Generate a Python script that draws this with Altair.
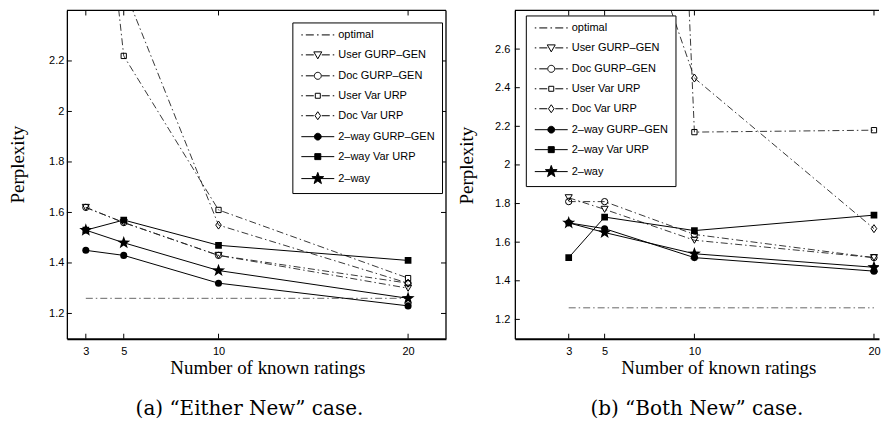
import math
import altair as alt
import pandas as pd

# ---------------- data ----------------
x_ratings = [3, 5, 10, 20]
series_names = ["optimal", "User GURP–GEN", "Doc GURP–GEN", "User Var URP",
                "Doc Var URP", "2–way GURP–GEN", "2–way Var URP", "2–way"]

# (a) "Either New" case
a_optimal = [1.26, 1.26, 1.26, 1.26]
a_user_gurp = [1.62, 1.56, 1.43, 1.30]
a_doc_gurp = [1.62, 1.56, 1.43, 1.32]
a_user_var = [3.60, 2.22, 1.61, 1.34]
a_doc_var = [3.20, 2.49, 1.55, 1.32]
a_2way_gurp = [1.45, 1.43, 1.32, 1.23]
a_2way_var = [1.53, 1.57, 1.47, 1.41]
a_2way = [1.53, 1.48, 1.37, 1.26]

# (b) "Both New" case
b_optimal = [1.26, 1.26, 1.26, 1.26]
b_user_gurp = [1.83, 1.77, 1.61, 1.52]
b_doc_gurp = [1.81, 1.81, 1.64, 1.52]
b_user_var = [18.0, 13.0, 2.17, 2.18]
b_doc_var = [4.60, 3.80, 2.45, 1.67]
b_2way_gurp = [1.70, 1.67, 1.52, 1.45]
b_2way_var = [1.52, 1.73, 1.66, 1.74]
b_2way = [1.70, 1.65, 1.54, 1.47]

a_y_ticks = [1.2, 1.4, 1.6, 1.8, 2.0, 2.2]
b_y_ticks = [1.2, 1.4, 1.6, 1.8, 2.0, 2.2, 2.4, 2.6]

a_series = [a_optimal, a_user_gurp, a_doc_gurp, a_user_var, a_doc_var, a_2way_gurp, a_2way_var, a_2way]
b_series = [b_optimal, b_user_gurp, b_doc_gurp, b_user_var, b_doc_var, b_2way_gurp, b_2way_var, b_2way]


def to_frame(series_list):
    rows = []
    for name, vals in zip(series_names, series_list):
        for xv, yv in zip(x_ratings, vals):
            rows.append({"series": name, "x": xv, "y": yv})
    return pd.DataFrame(rows)


# ---------------- styles ----------------
DASHDOT = [7, 3, 1.5, 3]
SANS = "Liberation Sans"
SERIF = "Liberation Serif"


def poly_path(pts, scale=1.0):
    return "M" + "L".join(f"{x / scale:.3f},{y / scale:.3f}" for x, y in pts) + "Z"


def star_pts(R, r):
    pts = []
    for k in range(10):
        ang = -math.pi / 2 + k * math.pi / 5
        rad = R if k % 2 == 0 else r
        pts.append((rad * math.cos(ang), rad * math.sin(ang)))
    return pts


def circle_pts(R, n=24):
    return [(R * math.cos(2 * math.pi * k / n), R * math.sin(2 * math.pi * k / n)) for k in range(n)]


STAR_UNIT = poly_path(star_pts(1.0, 0.4))
DIAMOND_UNIT = "M0,-1L0.7,0L0,1L-0.7,0Z"

line_style = {}
for i, n in enumerate(series_names):
    if i == 0:
        line_style[n] = dict(color="#555555", strokeDash=DASHDOT, strokeWidth=0.9)
    elif i < 5:
        line_style[n] = dict(color="#222222", strokeDash=DASHDOT, strokeWidth=0.9)
    else:
        line_style[n] = dict(color="black", strokeWidth=1)

point_style = {
    series_names[1]: dict(shape="triangle-down", size=50, filled=False),
    series_names[2]: dict(shape="circle", size=40, filled=False),
    series_names[3]: dict(shape="square", size=28, filled=False),
    series_names[4]: dict(shape=DIAMOND_UNIT, size=64, filled=False),
    series_names[5]: dict(shape="circle", size=50, filled=True),
    series_names[6]: dict(shape="square", size=45, filled=True),
    series_names[7]: dict(shape=STAR_UNIT, size=190, filled=True),
}

# legend symbols: line sample + marker drawn as one path
LEG_SIZE = 49
U = math.sqrt(LEG_SIZE) / 2


def seg(a, b):
    return f"M{a / U:.3f},0H{b / U:.3f}"


dd_left = seg(-16.5, -15) + seg(-12, -4)
dd_right = seg(4, 12) + seg(15, 16.5)
solid = seg(-16.5, 16.5)
legend_paths = [
    seg(-16.5, -15) + seg(-12, -4) + seg(-0.8, 0.8) + seg(4, 12) + seg(15, 16.5),
    dd_left + dd_right + poly_path([(-4, -3), (4, -3), (0, 4)], U),
    dd_left + dd_right + poly_path(circle_pts(3.5), U),
    dd_left + dd_right + poly_path([(-2.5, -2.5), (2.5, -2.5), (2.5, 2.5), (-2.5, 2.5)], U),
    dd_left + dd_right + poly_path([(0, -4), (2.8, 0), (0, 4), (-2.8, 0)], U),
    solid + poly_path(circle_pts(3.4), U),
    solid + poly_path([(-3.0, -3.0), (3.0, -3.0), (3.0, 3.0), (-3.0, 3.0)], U),
    solid + poly_path(star_pts(6.2, 2.5), U),
]
legend_fills = ["transparent"] * 5 + ["black"] * 3
legend_strokes = ["black"] * 8


def panel(series_list, xdom, ydom, yticks, W, H, leg_x, leg_y, caption, cap_dx,
          xtitle_x, ytitle_x, ytitle_y, ylabel_pad, right_frame):
    df = to_frame(series_list)
    X = alt.X("x:Q", scale=alt.Scale(domain=xdom, nice=False, zero=False),
              axis=alt.Axis(values=x_ratings, format="d", title="Number of known ratings",
                            labelPadding=7, titlePadding=2, titleX=xtitle_x, domainWidth=2))
    Y = alt.Y("y:Q", scale=alt.Scale(domain=ydom, nice=False, zero=False),
              axis=alt.Axis(values=yticks, format="~g", title="Perplexity",
                            labelPadding=ylabel_pad, titleX=ytitle_x, titleY=ytitle_y,
                            titleAngle=270, titleBaseline="middle", titleAlign="center"))
    base = alt.Chart(df)
    layers = []
    for n in series_names:
        layers.append(base.transform_filter(alt.datum.series == n)
                      .mark_line(clip=True, **line_style[n]).encode(x=X, y=Y))
    for n in series_names[1:]:
        st = point_style[n]
        layers.append(base.transform_filter(alt.datum.series == n)
                      .mark_point(clip=True, shape=st["shape"], size=st["size"], filled=st["filled"],
                                  color="black", strokeWidth=1, opacity=1)
                      .encode(x=X, y=Y))
    # inward ticks (MATLAB style box)
    xt = pd.DataFrame({"x": x_ratings})
    yt = pd.DataFrame({"y": yticks})
    layers.append(alt.Chart(xt).mark_rule(color="black", strokeWidth=1)
                  .encode(x=X, y=alt.value(0), y2=alt.value(5)))
    layers.append(alt.Chart(xt).mark_rule(color="black", strokeWidth=1)
                  .encode(x=X, y=alt.value(H), y2=alt.value(H - 5)))
    layers.append(alt.Chart(yt).mark_rule(color="black", strokeWidth=1)
                  .encode(y=Y, x=alt.value(0), x2=alt.value(5)))
    one = pd.DataFrame({"k": [0]})
    layers.append(alt.Chart(one).mark_rule(color="black", strokeWidth=1.3)
                  .encode(x=alt.value(0), x2=alt.value(W), y=alt.value(0)))
    if right_frame:
        layers.append(alt.Chart(yt).mark_rule(color="black", strokeWidth=1)
                      .encode(y=Y, x=alt.value(W), x2=alt.value(W - 5)))
        layers.append(alt.Chart(one).mark_rule(color="black", strokeWidth=1.3)
                      .encode(x=alt.value(W), y=alt.value(0), y2=alt.value(H)))
    leg = dict(orient="none", legendX=leg_x, legendY=leg_y, title=None, padding=7,
               strokeColor="black", fillColor="white", labelFont=SANS, labelFontSize=11,
               labelColor="black", symbolSize=LEG_SIZE, symbolStrokeWidth=1,
               symbolStrokeColor="black", symbolOffset=13, labelOffset=15, rowPadding=8,
               cornerRadius=0)
    layers.append(base.transform_filter("false")
                  .mark_point(strokeWidth=1, opacity=1)
                  .encode(x=X, y=Y,
                          shape=alt.Shape("series:N", scale=alt.Scale(domain=series_names, range=legend_paths),
                                          legend=alt.Legend(**leg)),
                          fill=alt.Fill("series:N", scale=alt.Scale(domain=series_names, range=legend_fills),
                                        legend=alt.Legend(**leg)),
                          stroke=alt.Stroke("series:N", scale=alt.Scale(domain=series_names, range=legend_strokes),
                                            legend=alt.Legend(**leg))))
    return alt.layer(*layers).properties(
        width=W, height=H,
        title=alt.TitleParams(text=caption, orient="bottom", anchor="middle", frame="group",
                              font="DejaVu Serif", fontSize=20, fontWeight="normal",
                              color="black", dx=cap_dx, offset=21),
    )


left = panel(a_series, [2, 22], [1.1, 2.4], a_y_ticks, 380, 329, 226, 12,
             "(a) “Either New” case.", -7, 201, -49, 154, 3, True)
right = panel(b_series, [0, 20.28], [1.1, 2.8], b_y_ticks, 365, 329, 11, 5,
              "(b) “Both New” case.", 0, 204, -48, 155, 5, False)

chart = alt.hconcat(left, right, spacing=9, padding={"left": 0, "top": 0, "right": 0, "bottom": 0},
                    background="white").resolve_scale(
    x="independent", y="independent", shape="independent", fill="independent", stroke="independent"
).resolve_legend(shape="independent", fill="independent", stroke="independent").configure_view(
    stroke="transparent"
).configure_axis(
    domain=True, domainColor="black", domainWidth=1.3, ticks=False, grid=False,
    labelFont=SANS, labelFontSize=11, labelColor="black",
    titleFont=SERIF, titleFontSize=19, titleFontWeight="normal", titleColor="black",
)

chart.save("out.html", embed_options={"renderer": "svg", "actions": False})
